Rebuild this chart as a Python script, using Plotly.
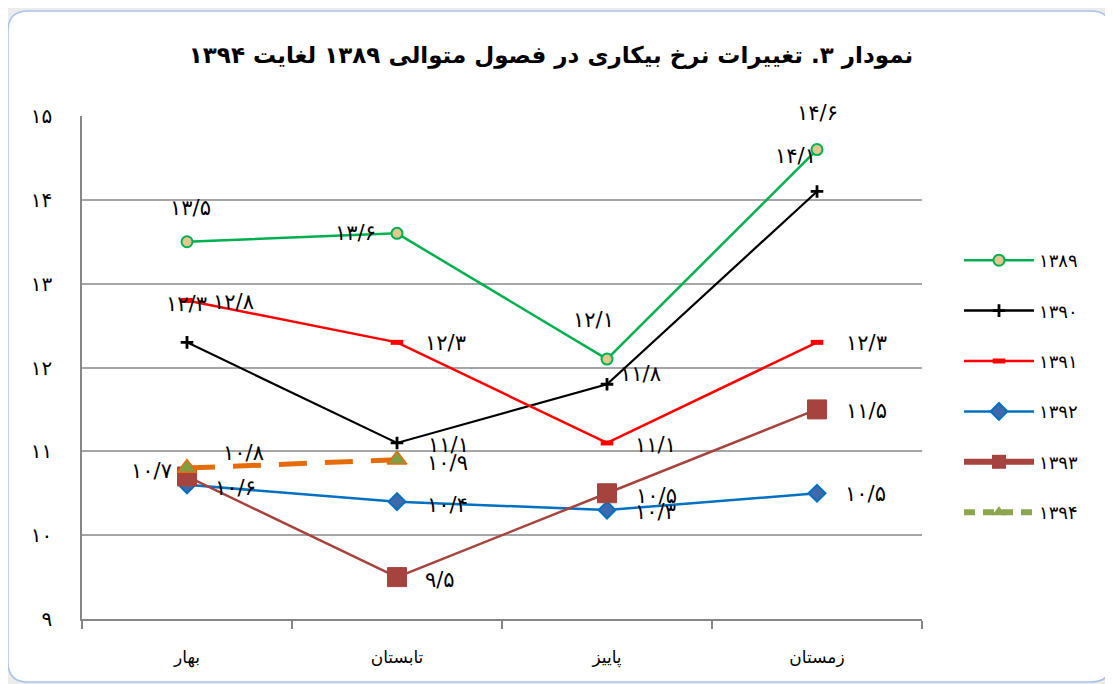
import plotly.graph_objects as go

# ---------------- data ----------------
seasons = ["بهار", "تابستان", "پاییز", "زمستان"]
years = ["1389", "1390", "1391", "1392", "1393", "1394"]
y1389 = [13.5, 13.6, 12.1, 14.6]
y1390 = [12.3, 11.1, 11.8, 14.1]
y1391 = [12.8, 12.3, 11.1, 12.3]
y1392 = [10.6, 10.4, 10.3, 10.5]
y1393 = [10.7, 9.5, 10.5, 11.5]
y1394 = [10.8, 10.9]
ytick_vals = [9, 10, 11, 12, 13, 14, 15]
title_text = "نمودار ۳. تغییرات نرخ بیکاری در فصول متوالی ۱۳۸۹ لغایت ۱۳۹۴"

FA = str.maketrans("0123456789.", "۰۱۲۳۴۵۶۷۸۹/")


def fa(v):
    return str(v).translate(FA)


series_values = [y1389, y1390, y1391, y1392, y1393, y1394]

# ---------------- styles ----------------
OFF = 8  # page body margin
W, H = 1113 - OFF, 684 - OFF
L, R, T, B = 82 - OFF, 922 - OFF, 116 - OFF, 619 - OFF  # plot area in figure pixels
FONT = "DejaVu Sans"

styles = [
    dict(line=dict(color="#00B050", width=2.5),
         marker=dict(symbol="circle", size=11, color="#E3C78F", line=dict(color="#00B050", width=2))),
    dict(line=dict(color="#000000", width=2.2),
         marker=dict(symbol="cross-thin", size=9, color="#000000", line=dict(color="#000000", width=2.8))),
    dict(line=dict(color="#FF0000", width=2.5),
         marker=dict(symbol="line-ew", size=9, color="#FF0000", line=dict(color="#FF0000", width=5))),
    dict(line=dict(color="#0070C0", width=2.5),
         marker=dict(symbol="diamond", size=13, color="#3F69AA", line=dict(color="#0070C0", width=2))),
    dict(line=dict(color="#A5443F", width=2.5),
         marker=dict(symbol="square", size=19, color="#A5443F", line=dict(color="#A5443F", width=1))),
    dict(line=dict(color="#E46C0A", width=5, dash="28px,18px"),
         marker=dict(symbol="triangle-up", size=17, color="#7F9F45", line=dict(color="#E46C0A", width=1.5))),
]
legend_styles = [
    dict(line=dict(color="#00B050", width=2.5), marker=styles[0]["marker"]),
    dict(line=dict(color="#000000", width=2.5), marker=styles[1]["marker"]),
    dict(line=dict(color="#FF0000", width=2.5), marker=styles[2]["marker"]),
    dict(line=dict(color="#0070C0", width=2.5), marker=styles[3]["marker"]),
    dict(line=dict(color="#A5443F", width=6), marker=dict(symbol="square", size=14, color="#A5443F")),
    dict(line=dict(color="#8CA64D", width=6, dash="11px,8px"),
         marker=dict(symbol="triangle-up", size=12, color="#8CA64D")),
]
# label offsets in pixels (dx right, dy down)
label_offsets = [
    [(3, -34), (-42, 0), (-14, -39), (0, -37)],
    [(-1, -38), (51, 2), (33, -10), (-22, -35)],
    [(46, 2), (48, 1), (48, 2), (49, 1)],
    [(48, 3), (50, 3), (48, 2), (48, 1)],
    [(-36, -5), (43, 3), (49, 3), (49, 2)],
    [(56, -15), (50, 3)],
]

fig = go.Figure()

for i, (yr, vals) in enumerate(zip(years, series_values)):
    fig.add_trace(go.Scatter(
        x=seasons[:len(vals)], y=vals, mode="lines+markers",
        line=styles[i]["line"], marker=styles[i]["marker"],
        showlegend=False, hoverinfo="skip", cliponaxis=False,
    ))

for i, yr in enumerate(years):
    fig.add_trace(go.Scatter(
        x=[None], y=[None], mode="lines+markers", name=fa(yr),
        line=legend_styles[i]["line"], marker=legend_styles[i]["marker"],
        legendgroup=yr, showlegend=True,
    ))

annotations = []
for i, vals in enumerate(series_values):
    for j, v in enumerate(vals):
        dx, dy = label_offsets[i][j]
        annotations.append(dict(
            x=seasons[j], y=v, xref="x", yref="y", text=fa(v), showarrow=False,
            xshift=dx, yshift=-dy, font=dict(family=FONT, size=21, color="#000000"),
        ))


def px(xp):
    return (xp - OFF - L) / (R - L)


def py(yp):
    return (B - (yp - OFF)) / (B - T)


# rounded frame (screen pixel coords)
fl, fr, ft, fb, rad = 8, 1111, 11, 682, 20
path = (
    f"M {px(fl)},{py(ft + rad)} Q {px(fl)},{py(ft)} {px(fl + rad)},{py(ft)} "
    f"L {px(fr - rad)},{py(ft)} Q {px(fr)},{py(ft)} {px(fr)},{py(ft + rad)} "
    f"L {px(fr)},{py(fb - rad)} Q {px(fr)},{py(fb)} {px(fr - rad)},{py(fb)} "
    f"L {px(fl + rad)},{py(fb)} Q {px(fl)},{py(fb)} {px(fl)},{py(fb - rad)} Z"
)

fig.update_layout(
    width=W, height=H,
    margin=dict(l=L, r=W - R, t=T, b=H - B, autoexpand=False),
    paper_bgcolor="#ECECEC", plot_bgcolor="rgba(0,0,0,0)",
    font=dict(family=FONT, color="#000000"),
    title=dict(text=title_text, x=(551 - OFF) / W, xanchor="center", y=1 - (55 - OFF) / H,
               yanchor="middle", yref="container",
               font=dict(family=FONT, size=23, color="#000000", weight="bold")),
    shapes=[dict(type="path", xref="paper", yref="paper", path=path,
                 fillcolor="#FFFFFF", line=dict(color="#A9C2E8", width=1.5), layer="below")],
    annotations=annotations,
    showlegend=True,
    legend=dict(x=px(959), y=py(242), xanchor="left", yanchor="top", traceorder="grouped",
                tracegroupgap=24, font=dict(family=FONT, size=18), bgcolor="rgba(0,0,0,0)",
                itemwidth=70),
    xaxis=dict(type="category", categoryorder="array", categoryarray=seasons,
               range=[-0.5, 3.5], tickson="boundaries", ticks="outside", ticklen=8,
               tickcolor="#868686", tickwidth=1.5, showgrid=False, showline=True,
               linecolor="#868686", linewidth=1.5, ticklabelstandoff=22,
               tickfont=dict(family=FONT, size=17), zeroline=False),
    yaxis=dict(range=[9, 15], tickvals=ytick_vals, ticktext=[fa(v) for v in ytick_vals],
               showgrid=True, gridcolor="#A6A6A6", gridwidth=1.5, showline=True,
               linecolor="#868686", linewidth=1.5, ticks="", ticklabelstandoff=24,
               tickfont=dict(family=FONT, size=20), zeroline=False),
)

fig.write_html("out.html")
